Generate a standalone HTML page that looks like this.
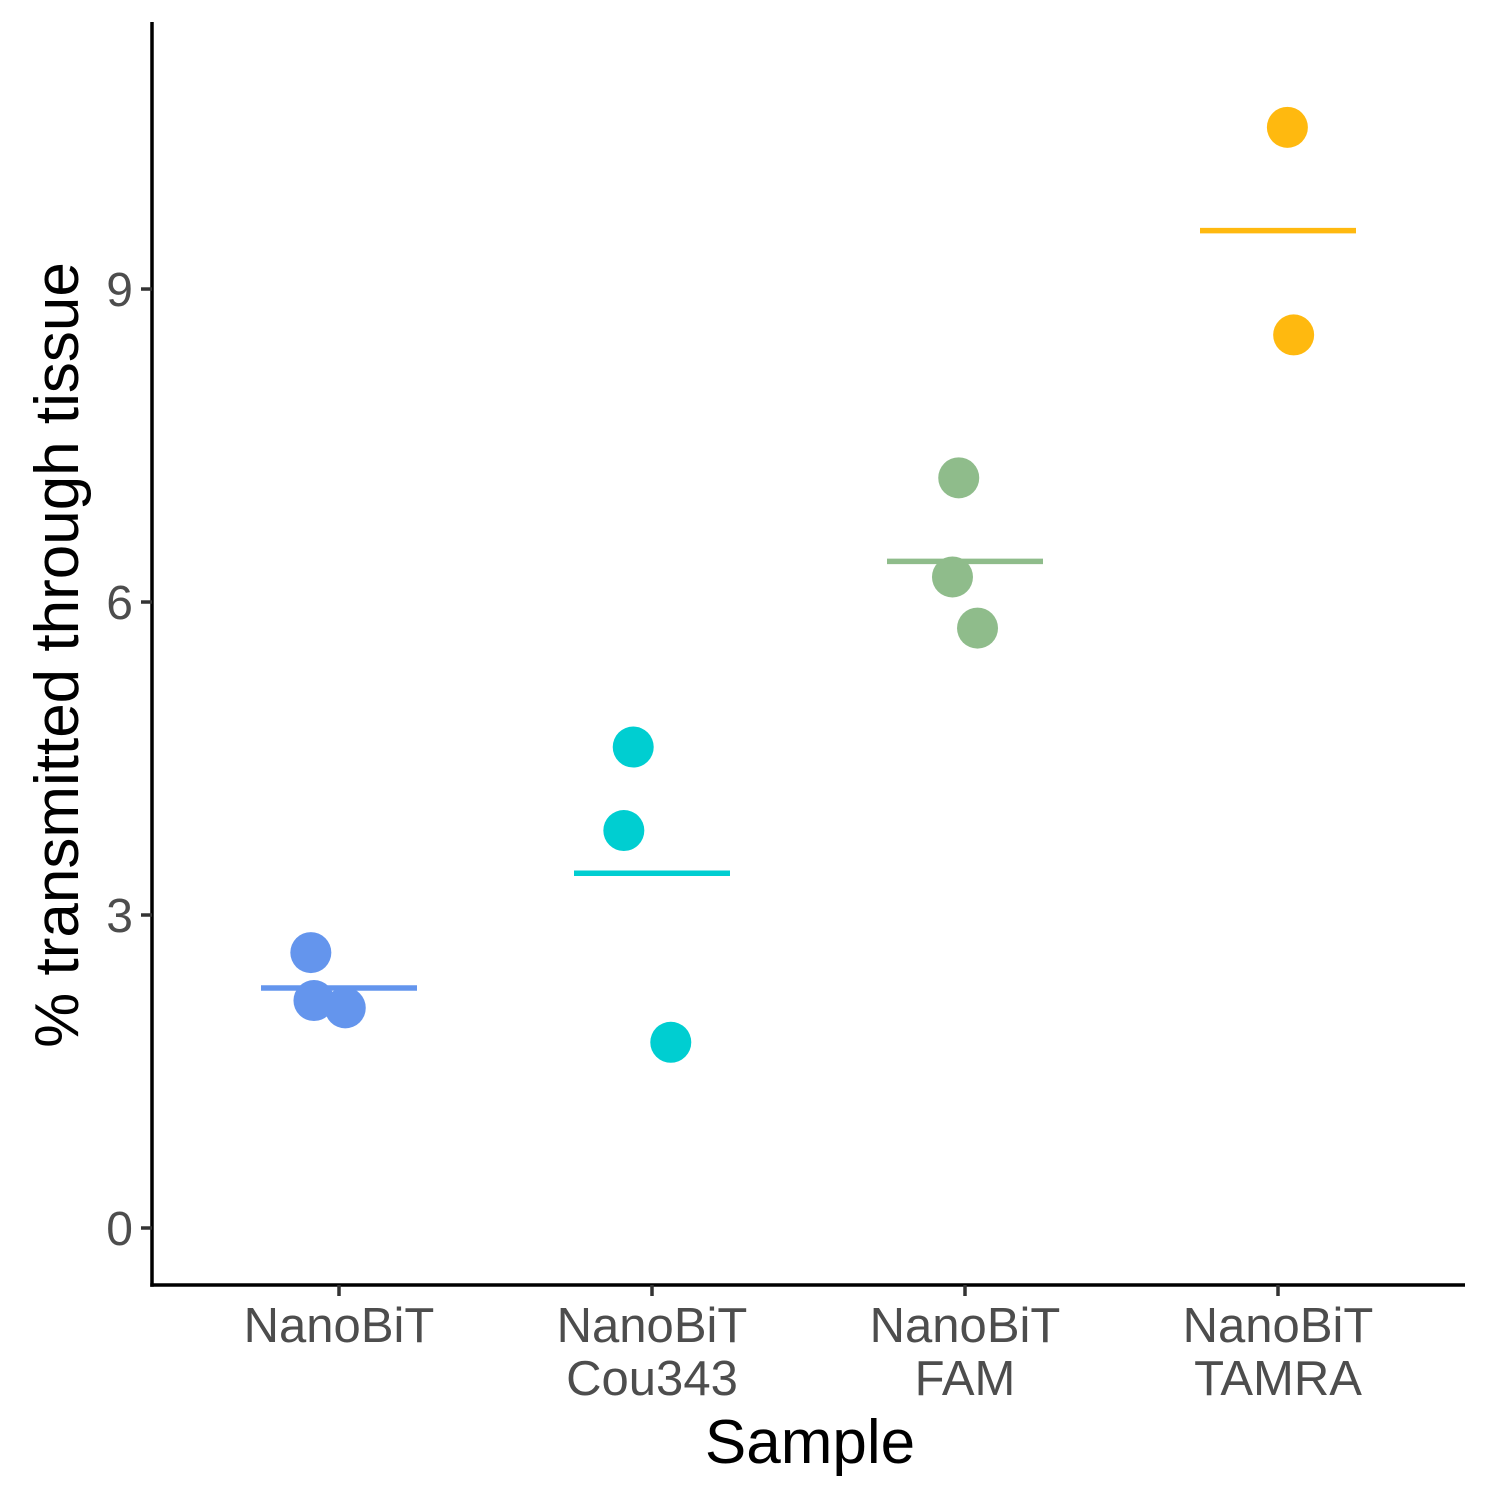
<!DOCTYPE html>
<html><head><meta charset="utf-8"><style>
html,body{margin:0;padding:0;background:#fff;}
svg{display:block;}
text{font-family:"Liberation Sans",Arial,sans-serif;}
</style></head><body>
<svg id="chart" width="1500" height="1500" viewBox="0 0 1500 1500">
<g id="plot"></g>
<text x="810" y="1463" font-size="62" text-anchor="middle" fill="#000">Sample</text>
<text transform="translate(78,655) rotate(-90)" font-size="62" text-anchor="middle" fill="#000">% transmitted through tissue</text>
</svg>
<script>
const categories = [["NanoBiT"],["NanoBiT","Cou343"],["NanoBiT","FAM"],["NanoBiT","TAMRA"]];
const colors = ["#6495ED","#00CED1","#8FBC8B","#FFB90F"];
const pointGroup = [0,0,0,1,1,1,2,2,2,3,3];
const pointValues = [2.64,2.18,2.11,4.61,3.81,1.78,7.19,6.24,5.75,10.55,8.56];
const pointJitter = [-0.09,-0.08,0.02,-0.06,-0.09,0.06,-0.02,-0.04,0.04,0.03,0.05];
const meanValues = [2.30,3.40,6.39,9.56];
const yTicks = [0,3,6,9];

const NS = "http://www.w3.org/2000/svg";
const g = document.getElementById('plot');
const x0 = 152, xEnd = 1465, yTop = 22, yBase = 1285;
function xScale(i){ return 339 + i*313; }
function yScale(v){ return 1228 - v*104.33; }
function mk(tag, attrs){ const e = document.createElementNS(NS, tag); for (const k in attrs) e.setAttribute(k, attrs[k]); g.appendChild(e); return e; }

pointValues.forEach((v,i)=>{
  const c = mk('circle',{cx:xScale(pointGroup[i]+pointJitter[i]),cy:yScale(v),r:20.5,fill:colors[pointGroup[i]]});
  
  
});
meanValues.forEach((v,i)=>{
  const l = mk('line',{x1:xScale(i)-78,x2:xScale(i)+78,y1:yScale(v),y2:yScale(v),stroke:colors[i],'stroke-width':5.5});
  
  
});
const ya = mk('line',{x1:x0,x2:x0,y1:yTop,y2:yBase+1.75,stroke:'#000','stroke-width':3.5});


const xa = mk('line',{x1:x0-1.75,x2:xEnd,y1:yBase,y2:yBase,stroke:'#000','stroke-width':3.5});


yTicks.forEach(t=>{
  const y = yScale(t);
  const tk = mk('line',{x1:x0-11,x2:x0,y1:y,y2:y,stroke:'#333','stroke-width':3.5});
  
  
  const tx = mk('text',{x:x0-19,y:y+17,'font-size':48,'text-anchor':'end',fill:'#4d4d4d'});
  tx.textContent = t;
  
  
});
categories.forEach((lines,i)=>{
  const x = xScale(i);
  const tk = mk('line',{x1:x,x2:x,y1:yBase,y2:yBase+11,stroke:'#333','stroke-width':3.5});
  
  
  lines.forEach((s,j)=>{
    const tx = mk('text',{x:x,y:1342+j*53,'font-size':49,'text-anchor':'middle',fill:'#4d4d4d'});
    tx.textContent = s;
    
    
  });
});
</script>
</body></html>
